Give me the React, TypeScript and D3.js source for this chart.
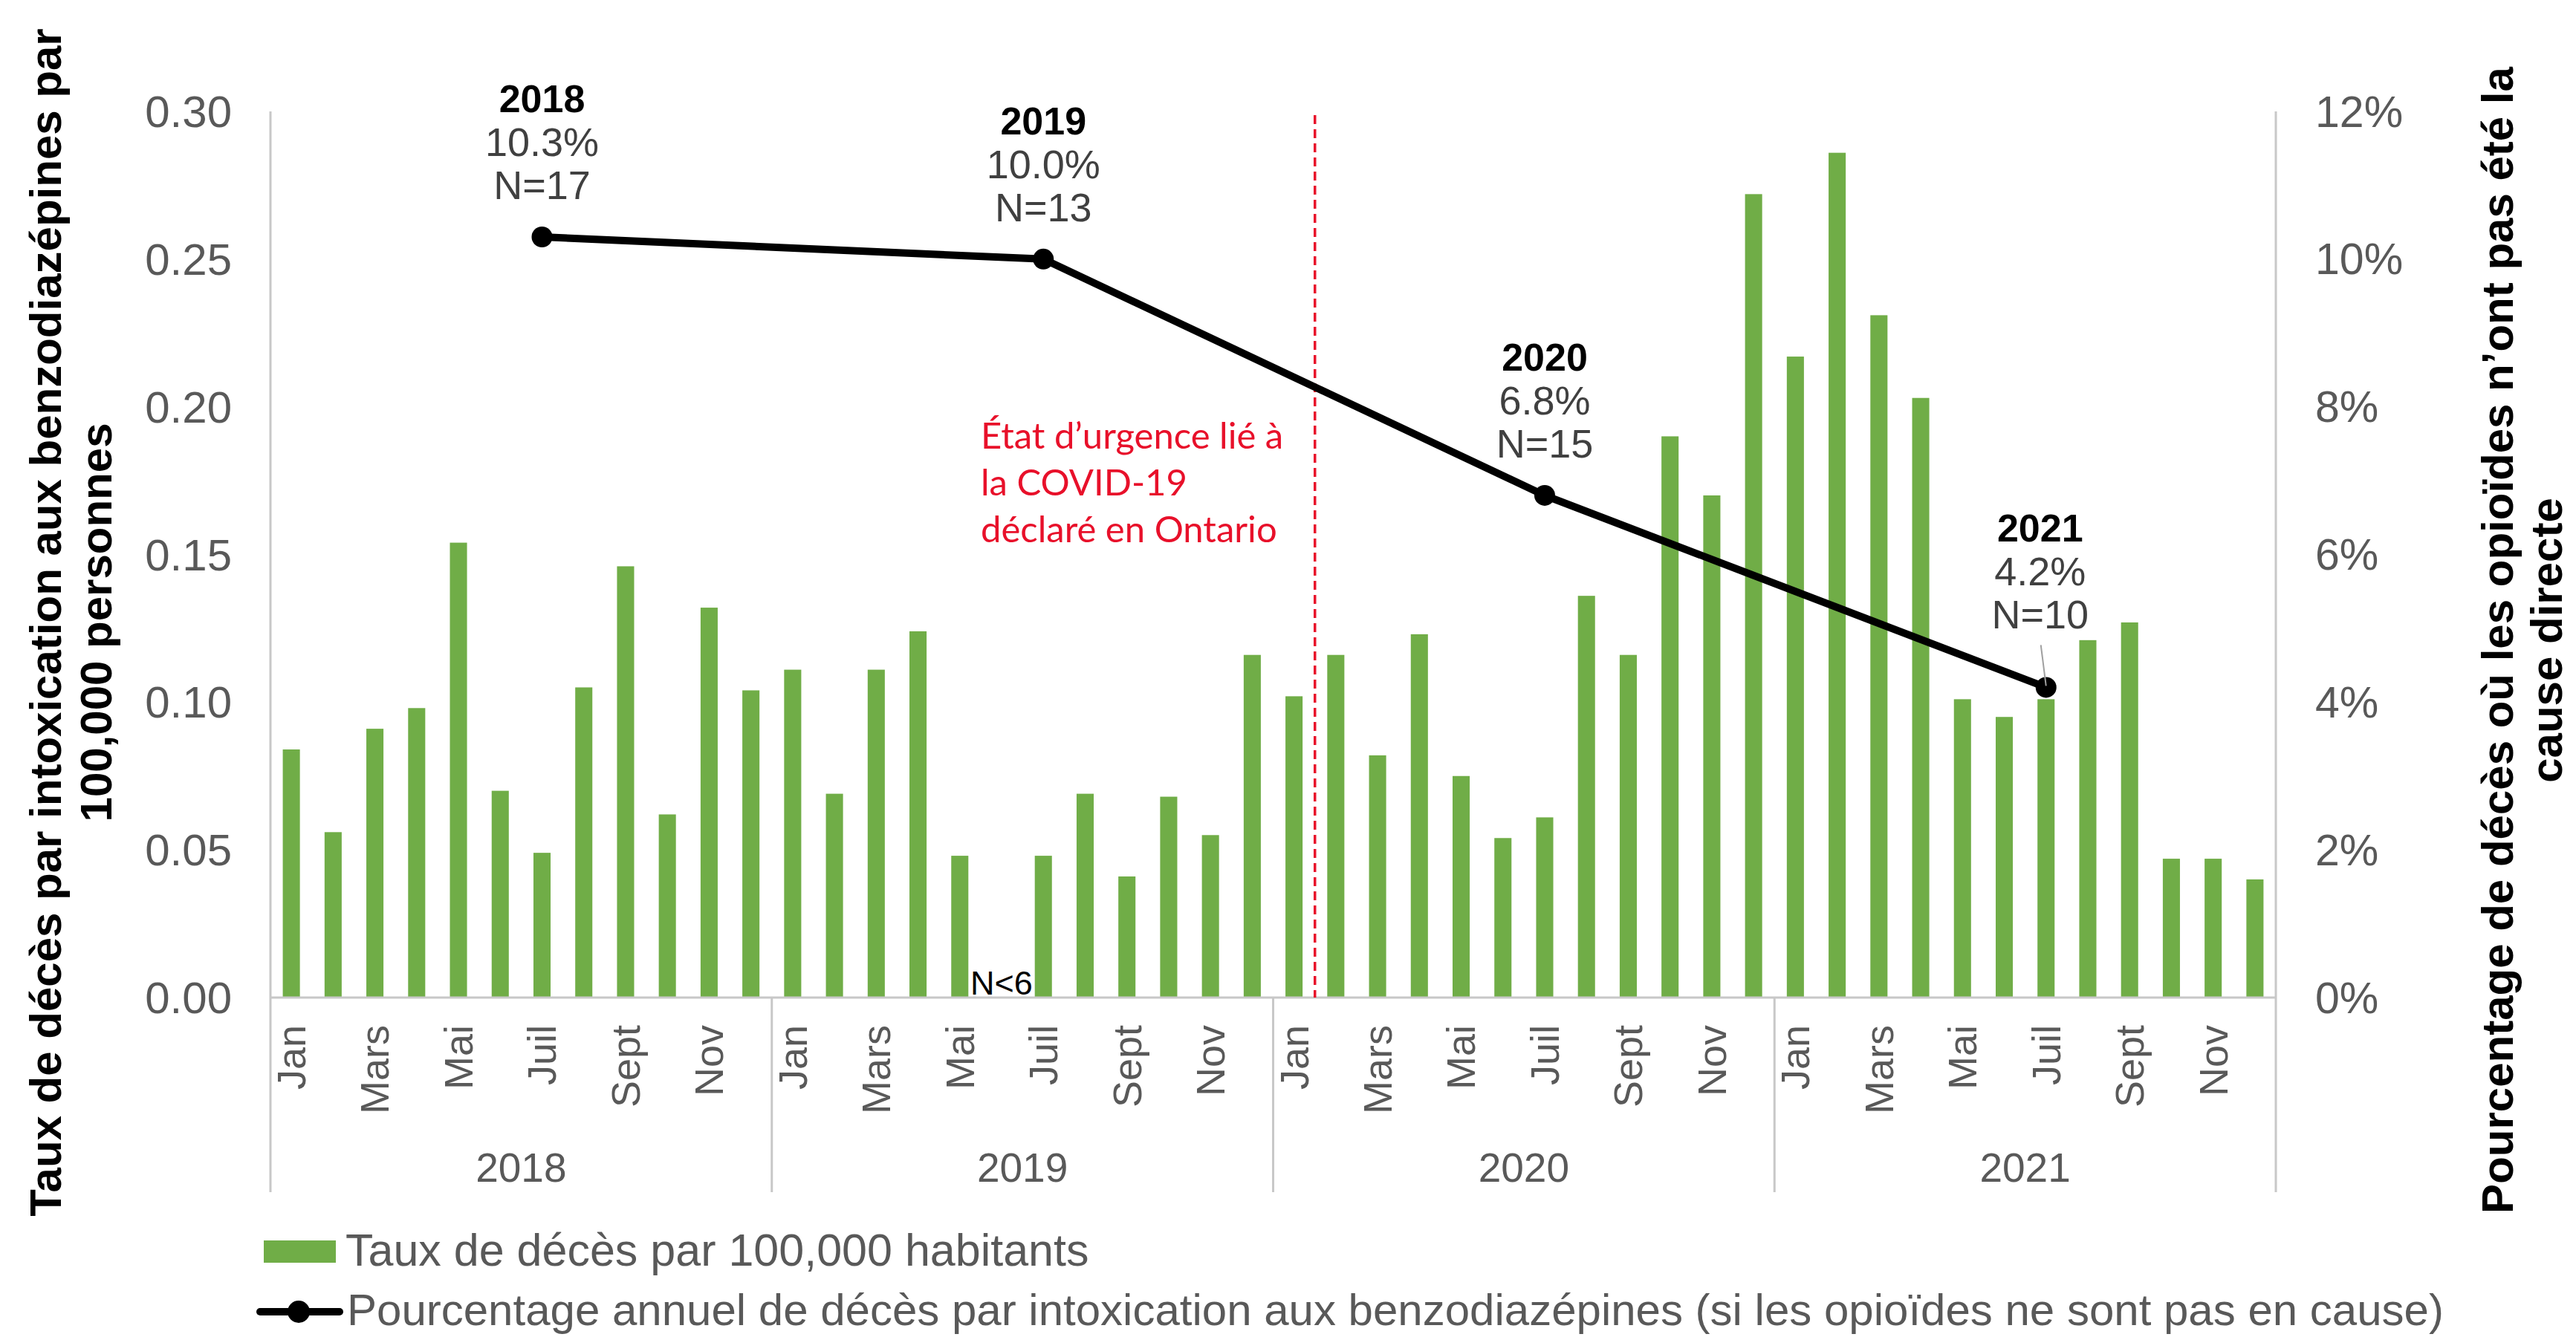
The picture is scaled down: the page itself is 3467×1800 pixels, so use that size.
import * as d3 from "d3";

// Monthly death rate per 100,000 (benzodiazepine toxicity), Jan–Dec for each year
const years = ["2018", "2019", "2020", "2021"];
const monthNames = ["Jan", "Fév", "Mars", "Avr", "Mai", "Juin", "Juil", "Août", "Sept", "Oct", "Nov", "Déc"];
const rate2018 = [0.084, 0.056, 0.091, 0.098, 0.154, 0.07, 0.049, 0.105, 0.146, 0.062, 0.132, 0.104];
const rate2019 = [0.111, 0.069, 0.111, 0.124, 0.048, 0, 0.048, 0.069, 0.041, 0.068, 0.055, 0.116];
const rate2020 = [0.102, 0.116, 0.082, 0.123, 0.075, 0.054, 0.061, 0.136, 0.116, 0.19, 0.17, 0.272];
const rate2021 = [0.217, 0.286, 0.231, 0.203, 0.101, 0.095, 0.101, 0.121, 0.127, 0.047, 0.047, 0.04];

// Annual % (opioids not in cause) and counts
const annualPct = [0.103, 0.1, 0.068, 0.042];
const annualN = [17, 13, 15, 10];
const annualPctLabels = ["10.3%", "10.0%", "6.8%", "4.2%"];

const leftTicks = [0, 0.05, 0.1, 0.15, 0.2, 0.25, 0.3];
const rightTicks = [0, 0.02, 0.04, 0.06, 0.08, 0.1, 0.12];

const suppressed = [{ year: "2019", month: 5, label: "N<6" }];

const W = 3467;
const H = 1800;
const FONT = "'Liberation Sans', Arial, sans-serif";
const GREEN = "#70AD47";
const AXIS = "#c8c8c8";
const TEXT = "#595959";
const RED = "#e8102a";

const months = years.flatMap((y) => monthNames.map((m, i) => ({ key: `${y}-${i}`, year: y, m: i, name: m })));
const allRates = [rate2018, rate2019, rate2020, rate2021].flat();

export default function App() {
    const left = 364;
    const right = 3063;
    const top = 150;
    const bottom = 1343;
    const catBottom = 1605;

    const x = d3
        .scaleBand()
        .domain(months.map((d) => d.key))
        .range([left, right])
        .paddingInner(0.59)
        .paddingOuter(0.295);
    const yL = d3.scaleLinear().domain([0, 0.3]).range([bottom, top]);
    const yR = d3.scaleLinear().domain([0, 0.12]).range([bottom, top]);

    const cx = (key) => x(key) + x.bandwidth() / 2;
    const fmtL = d3.format(".2f");
    const fmtR = d3.format(".0%");

    const points = years.map((y, i) => ({
        year: y,
        x: cx(`${y}-6`),
        y: yR(annualPct[i]),
        pct: annualPctLabels[i],
        n: annualN[i],
    }));
    const line = d3
        .line()
        .x((d) => d.x)
        .y((d) => d.y);

    const eventX = (cx("2020-0") + cx("2020-1")) / 2;
    const step = x.step();
    const yearStart = (i) => left + i * 12 * step;

    return (
        <svg
            width={W}
            height={H}
            viewBox={`0 0 ${W} ${H}`}
            style={{ position: "absolute", left: 0, top: 0, background: "#fff" }}
        >
            <rect width={W} height={H} fill="#fff" />

            {/* bars */}
            {months.map((d, i) =>
                allRates[i] > 0 ? (
                    <rect
                        key={d.key}
                        x={x(d.key)}
                        y={yL(allRates[i])}
                        width={x.bandwidth()}
                        height={bottom - yL(allRates[i])}
                        fill={GREEN}
                    />
                ) : null
            )}

            {suppressed.map((s) => (
                <text
                    key={s.label}
                    x={cx(`${s.year}-${s.month}`)}
                    y={bottom - 4}
                    textAnchor="middle"
                    fontFamily={FONT}
                    fontSize={45}
                    fill="#000"
                >
                    {s.label}
                </text>
            ))}

            {/* axes frame */}
            <line x1={left} x2={right} y1={bottom} y2={bottom} stroke={AXIS} strokeWidth={3} />
            <line x1={left} x2={left} y1={top} y2={catBottom} stroke={AXIS} strokeWidth={3} />
            <line x1={right} x2={right} y1={top} y2={catBottom} stroke={AXIS} strokeWidth={3} />
            {[1, 2, 3].map((i) => (
                <line
                    key={i}
                    x1={yearStart(i)}
                    x2={yearStart(i)}
                    y1={bottom}
                    y2={catBottom}
                    stroke={AXIS}
                    strokeWidth={3}
                />
            ))}

            {/* left ticks */}
            {leftTicks.map((t) => (
                <text
                    key={t}
                    x={312}
                    y={yL(t)}
                    dy="0.35em"
                    textAnchor="end"
                    fontFamily={FONT}
                    fontSize={60}
                    fill={TEXT}
                >
                    {fmtL(t)}
                </text>
            ))}
            {/* right ticks */}
            {rightTicks.map((t) => (
                <text
                    key={t}
                    x={3116}
                    y={yR(t)}
                    dy="0.35em"
                    textAnchor="start"
                    fontFamily={FONT}
                    fontSize={59}
                    fill={TEXT}
                >
                    {fmtR(t)}
                </text>
            ))}

            {/* month labels */}
            {months
                .filter((d) => d.m % 2 === 0)
                .map((d) => (
                    <text
                        key={d.key}
                        transform={`translate(${cx(d.key)},1380) rotate(-90)`}
                        dy="0.35em"
                        textAnchor="end"
                        fontFamily={FONT}
                        fontSize={54}
                        fill={TEXT}
                    >
                        {d.name}
                    </text>
                ))}
            {/* year labels */}
            {years.map((y, i) => (
                <text
                    key={y}
                    x={yearStart(i) + 6 * step}
                    y={1591}
                    textAnchor="middle"
                    fontFamily={FONT}
                    fontSize={55}
                    fill={TEXT}
                >
                    {y}
                </text>
            ))}

            {/* covid event */}
            <line
                x1={eventX}
                x2={eventX}
                y1={top + 5}
                y2={bottom}
                stroke={RED}
                strokeWidth={3.5}
                strokeDasharray="12 7"
            />
            <text fontFamily="Lato, 'Open Sans', sans-serif" fontSize={49} fill={RED}>
                {["État d’urgence lié à", "la COVID-19", "déclaré en Ontario"].map((s, i) => (
                    <tspan key={i} x={1320} y={604 + i * 63}>
                        {s}
                    </tspan>
                ))}
            </text>

            {/* annual line */}
            <path d={line(points)} fill="none" stroke="#000" strokeWidth={10} strokeLinejoin="round" />
            {points.map((p) => (
                <circle key={p.year} cx={p.x} cy={p.y} r={14} fill="#000" />
            ))}
            {points.map((p, i) => {
                const last = i === points.length - 1;
                const off = last ? 28 : 0;
                const lx = last ? p.x - 8 : p.x;
                return (
                    <g key={p.year}>
                        {last && (
                            <line x1={p.x - 7} y1={p.y - 57} x2={p.x} y2={p.y - 2} stroke="#a0a0a0" strokeWidth={2} />
                        )}
                        <text
                            x={lx}
                            y={p.y - 168 - off}
                            textAnchor="middle"
                            fontFamily={FONT}
                            fontSize={52}
                            fontWeight="bold"
                            fill="#000"
                        >
                            {p.year}
                        </text>
                        <text x={lx} y={p.y - 109 - off} textAnchor="middle" fontFamily={FONT} fontSize={54} fill="#404040">
                            {p.pct}
                        </text>
                        <text x={lx} y={p.y - 51 - off} textAnchor="middle" fontFamily={FONT} fontSize={54} fill="#404040">
                            {`N=${p.n}`}
                        </text>
                    </g>
                );
            })}

            {/* axis titles */}
            <text
                transform="translate(82,838) rotate(-90)"
                textAnchor="middle"
                fontFamily={FONT}
                fontSize={60}
                fontWeight="bold"
                fill="#000"
            >
                <tspan x={0} y={0}>Taux de décès par intoxication aux benzodiazépines par</tspan>
                <tspan x={0} y={68}>100,000 personnes</tspan>
            </text>
            <text
                transform="translate(3382,862) rotate(-90)"
                textAnchor="middle"
                fontFamily={FONT}
                fontSize={60}
                fontWeight="bold"
                fill="#000"
            >
                <tspan x={0} y={0}>Pourcentage de décès où les opioïdes n’ont pas été la</tspan>
                <tspan x={0} y={66}>cause directe</tspan>
            </text>

            {/* legend */}
            <rect x={355} y={1670} width={97} height={30} fill={GREEN} />
            <text x={465} y={1704} fontFamily={FONT} fontSize={61} fill={TEXT}>
                Taux de décès par 100,000 habitants
            </text>
            <line x1={350} x2={457} y1={1766} y2={1766} stroke="#000" strokeWidth={10} strokeLinecap="round" />
            <circle cx={402} cy={1766} r={15} fill="#000" />
            <text x={467} y={1784} fontFamily={FONT} fontSize={60} fill={TEXT}>
                Pourcentage annuel de décès par intoxication aux benzodiazépines (si les opioïdes ne sont pas en cause)
            </text>
        </svg>
    );
}
